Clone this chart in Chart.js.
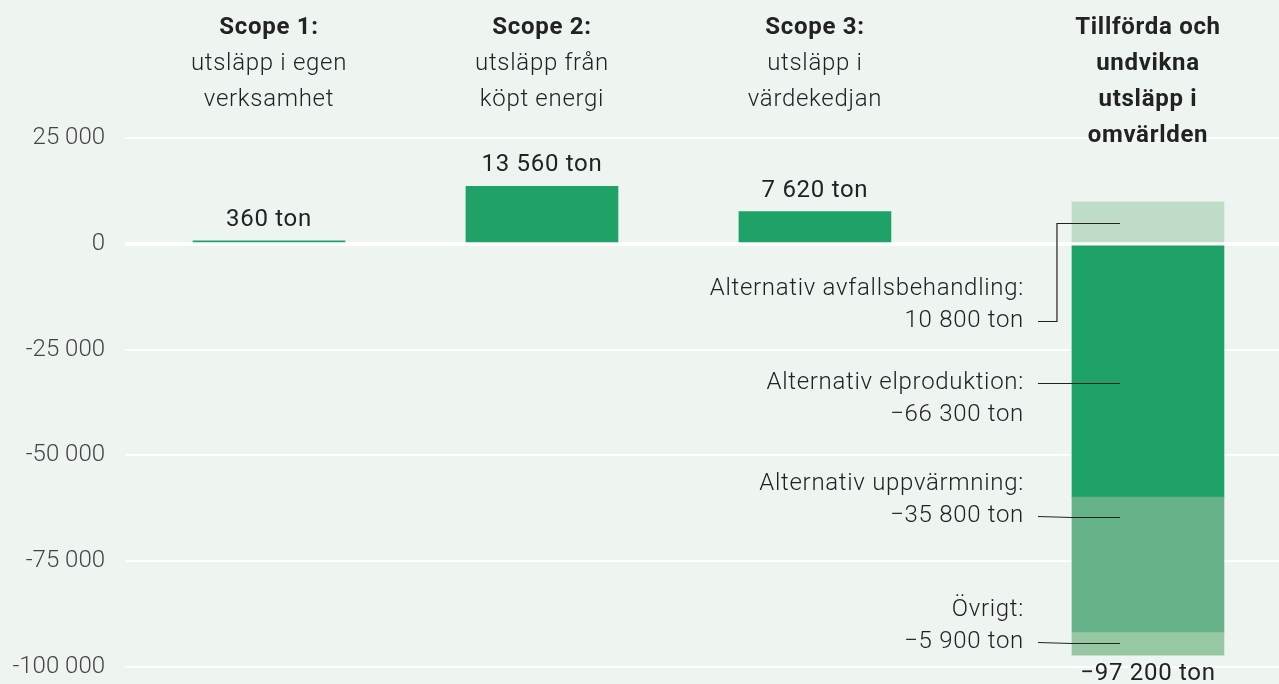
<!DOCTYPE html>
<html lang="sv">
<head>
<meta charset="utf-8">
<script src="https://cdn.jsdelivr.net/npm/chart.js@4"></script>
<style>
  html, body { margin: 0; padding: 0; background: #eef5f1; }
  #wrap { width: 1279px; height: 684px; position: relative; }
</style>
</head>
<body>
<div id="wrap"><canvas id="c"></canvas></div>
<script>
// column headings
const titleLines = [
  ['Scope 1:', 'utsläpp i egen', 'verksamhet'],
  ['Scope 2:', 'utsläpp från', 'köpt energi'],
  ['Scope 3:', 'utsläpp i', 'värdekedjan'],
  ['Tillförda och', 'undvikna', 'utsläpp i', 'omvärlden']
];

// scope 1-3 (ton CO2e)
const scopeValues = [360, 13560, 7620];
const scopeLabels = ['360 ton', '13 560 ton', '7 620 ton'];

// last column, segments as drawn [from, to]
const segNames = ['Avfallsbehandling', 'Elproduktion', 'Uppvärmning', 'Övrigt'];
const segRanges = [[0, 9900], [0, -59700], [-59700, -91700], [-91700, -97200]];
const segColors = ['#bfdcc7', '#1ea267', '#66b389', '#97c8a3'];
const totalLabel = '−97 200 ton';

// annotations next to the last column
const annText = [
  ['Alternativ avfallsbehandling:', '10 800 ton'],
  ['Alternativ elproduktion:', '−66 300 ton'],
  ['Alternativ uppvärmning:', '−35 800 ton'],
  ['Övrigt:', '−5 900 ton']
];
const annTextY = [-10600, -33000, -56800, -86600];
const annPointY = [4950, -33000, -64600, -94400];
const annFromLine = [1, 0, 1, 1];

const yTicks = [25000, 0, -25000, -50000, -75000, -100000];

// layout
const colPos = [0, 1, 2, 3.22];
const BOLD = 'bold 24px Roboto, sans-serif';
const LIGHT = '300 24px Roboto, sans-serif';
const REG = '400 24px Roboto, sans-serif';
const fmt = v => String(Math.abs(v)).replace(/\B(?=(\d{3})+(?!\d))/g, ' ');

const overlay = {
  id: 'overlay',
  afterDatasetsDraw(chart) {
    const { ctx, scales: { x, y } } = chart;
    ctx.save();
    ctx.fillStyle = '#222';
    ctx.textBaseline = 'middle';
    ctx.textAlign = 'center';
    ctx.letterSpacing = '0.7px';

    titleLines.forEach((lines, i) => {
      const cx = x.getPixelForValue(colPos[i]);
      lines.forEach((t, j) => {
        ctx.font = (j === 0 || i === 3) ? BOLD : LIGHT;
        ctx.fillText(t, cx, 28 + j * 36);
      });
    });

    ctx.font = REG;
    chart.getDatasetMeta(0).data.forEach((el, i) => {
      ctx.fillText(scopeLabels[i], el.x, el.y - 21);
    });
    const last = chart.getDatasetMeta(chart.data.datasets.length - 1).data[0];
    ctx.fillText(totalLabel, last.x, last.y + 19);

    // annotations
    const barLeft = last.x - last.width / 2;
    const textRight = barLeft - 48;
    ctx.textAlign = 'right';
    ctx.font = LIGHT;
    ctx.strokeStyle = '#222';
    ctx.lineWidth = 1.2;
    annText.forEach((lines, i) => {
      const ty = y.getPixelForValue(annTextY[i]);
      lines.forEach((t, j) => ctx.fillText(t, textRight, ty + j * 32));
      const oy = Math.round(ty + annFromLine[i] * 32) + 0.5;
      const py = Math.round(y.getPixelForValue(annPointY[i])) + 0.5;
      ctx.beginPath();
      ctx.moveTo(textRight + 14, oy);
      if (Math.abs(oy - py) > 4) {
        ctx.lineTo(barLeft - 15, oy);
        ctx.lineTo(barLeft - 15, py);
      } else {
        ctx.lineTo(barLeft, py);
      }
      ctx.lineTo(barLeft + 48, py);
      ctx.stroke();
    });
    ctx.restore();
  }
};

const datasets = [{
  label: 'Scope',
  data: scopeValues.map((v, i) => ({ x: colPos[i], y: v })),
  backgroundColor: '#1ea267',
  minBarLength: 3
}].concat(segRanges.map((r, i) => ({
  label: segNames[i],
  data: [{ x: colPos[3], y: r }],
  backgroundColor: segColors[i]
})));

new Chart(document.getElementById('c'), {
  type: 'bar',
  data: { datasets },
  options: {
    responsive: true,
    maintainAspectRatio: false,
    animation: false,
    layout: { padding: { top: 138, bottom: 17, left: 0, right: 0 } },
    datasets: { bar: { barThickness: 152, grouped: false, borderWidth: 0 } },
    scales: {
      x: {
        type: 'linear',
        display: false,
        offset: false,
        min: -0.5275,
        max: 3.7
      },
      y: {
        min: -100000,
        max: 25000,
        afterFit: s => { s.width = 125; s.paddingTop = 0; s.paddingBottom = 0; },
        afterBuildTicks: s => { s.ticks = yTicks.map(v => ({ value: v })); },
        border: { display: false },
        grid: {
          color: '#ffffff',
          lineWidth: c => (c.tick && c.tick.value === 0 ? 4 : 2),
          drawTicks: false
        },
        ticks: {
          padding: 20,
          color: '#444',
          font: { family: 'Roboto, sans-serif', size: 24, weight: '300' },
          callback: v => (v < 0 ? '-' : '') + fmt(v)
        }
      }
    },
    plugins: {
      legend: { display: false },
      tooltip: { enabled: false }
    }
  },
  plugins: [overlay]
});
</script>
</body>
</html>
